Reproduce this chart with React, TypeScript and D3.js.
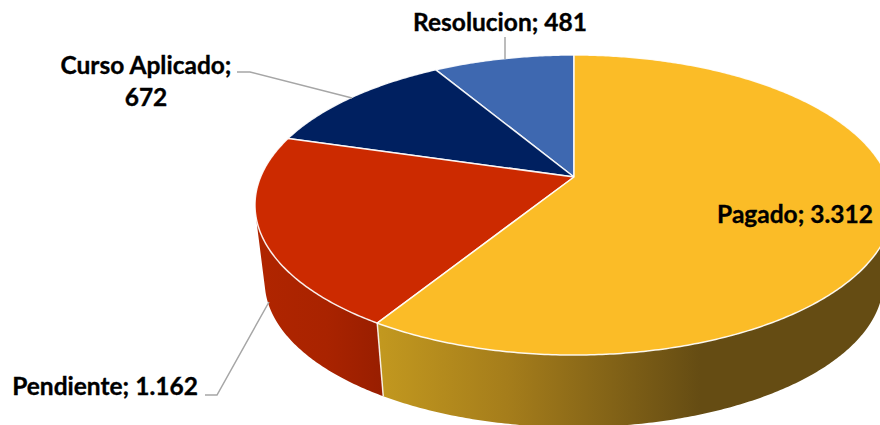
import React from "react";
import * as d3 from "d3";

const categories = ["Resolucion", "Curso Aplicado", "Pendiente", "Pagado"];
const values = [481, 672, 1162, 3312];
const valueLabels = ["481", "672", "1.162", "3.312"];
const colors = ["#3E68B0", "#002060", "#CC2A00", "#FBBC27"];

const W = 880, H = 425;
// Perspective projection of the unit disc
const cx = 574, cy = 177, a = 313.4, b = 144.8, k = 0.1867;
// Vanishing point of vertical edges and scale of the bottom plane
const vy = 2720, s = 0.9695;

type P = [number, number];
const top = (t: number): P => {
  const u = Math.sin(t), v = -Math.cos(t), w = 1 - k * v;
  return [cx + (a * u) / w, cy + (b * v) / w];
};
const bot = (t: number): P => {
  const [x, y] = top(t);
  return [cx + (x - cx) * s, vy - (vy - y) * s];
};
// front-facing: the rim's tangent and the vertical edge turn the outward way
const visible = (t: number) => {
  const e = 0.001;
  const p0 = top(t - e), p1 = top(t + e), p = top(t), q = bot(t);
  const tx = p1[0] - p0[0], ty = p1[1] - p0[1];
  const gx = q[0] - p[0], gy = q[1] - p[1];
  return tx * gy - ty * gx < 0;
};

const pieGen = d3.pie<number>().sort(null).value((d) => d);
// counter-clockwise from 12 o'clock, first category first
const arcs = pieGen(values).map((d) => ({
  index: d.index,
  start: -d.startAngle,
  end: -d.endAngle,
}));

const sample = (t0: number, t1: number) => {
  const n = Math.max(2, Math.ceil(Math.abs(t1 - t0) / 0.01));
  return d3.range(n + 1).map((i) => t0 + ((t1 - t0) * i) / n);
};
const line = d3.line<P>();

const labelStyle: React.CSSProperties = {
  fontFamily: "Lato, sans-serif",
  fontWeight: 700,
  fontSize: 24.5,
  fill: "#000",
  stroke: "#000",
  strokeWidth: 0.35,
};

export default function App() {
  const topFaces = arcs.map((d) => {
    const pts = sample(d.start, d.end).map(top);
    return line([[cx, cy], ...pts])! + "Z";
  });
  const sides = arcs
    .map((d) => {
      const ts = sample(d.start, d.end).filter(visible);
      if (ts.length < 2) return null;
      const path = line([...ts.map(top), ...ts.slice().reverse().map(bot)])! + "Z";
      return { index: d.index, path };
    })
    .filter(Boolean) as { index: number; path: string }[];
  const pStart = top(arcs[2].end);
  const pEnd = bot(arcs[2].end);

  const lbl = (i: number) => `${categories[i]}; ${valueLabels[i]}`;

  return (
    <svg
      width={W}
      height={H}
      viewBox={`0 0 ${W} ${H}`}
      style={{ position: "fixed", left: 0, top: 0, background: "#fff", overflow: "hidden" }}
    >
      <defs>
        <linearGradient id="side-2" gradientUnits="userSpaceOnUse" x1={256} x2={384} y1={0} y2={0}>
          <stop offset="0" stopColor="#B02500" />
          <stop offset="0.55" stopColor="#A92300" />
          <stop offset="1" stopColor="#981E00" />
        </linearGradient>
        <linearGradient id="side-3" gradientUnits="userSpaceOnUse" x1={380} x2={700} y1={0} y2={0}>
          <stop offset="0" stopColor="#C2981F" />
          <stop offset="0.4" stopColor="#A57D1B" />
          <stop offset="0.72" stopColor="#836317" />
          <stop offset="1" stopColor="#654C13" />
        </linearGradient>
      </defs>
      {sides.map((d) => (
        <path key={d.index} d={d.path} fill={`url(#side-${d.index})`} />
      ))}
      <line
        x1={pStart[0]}
        y1={pStart[1]}
        x2={pEnd[0]}
        y2={pEnd[1]}
        stroke="#fff"
        strokeOpacity={0.85}
        strokeWidth={1.5}
      />
      {arcs.map((d, i) => (
        <path
          key={d.index}
          d={topFaces[i]}
          fill={colors[d.index]}
          stroke="#fff"
          strokeOpacity={0.9}
          strokeWidth={1.5}
          strokeLinejoin="round"
        />
      ))}
      <g fill="none" stroke="#A6A6A6" strokeWidth={1.5}>
        <path d="M505,37V59" />
        <path d="M237,72H250L352,98" />
        <path d="M205,395H217L269,302" />
      </g>
      <text x={500} y={31} textAnchor="middle" style={labelStyle}>{lbl(0)}</text>
      <text x={146} y={74} textAnchor="middle" style={labelStyle}>{categories[1]};</text>
      <text x={146} y={106} textAnchor="middle" style={labelStyle}>{valueLabels[1]}</text>
      <text x={105} y={395} textAnchor="middle" style={labelStyle}>{lbl(2)}</text>
      <text x={795} y={223} textAnchor="middle" style={labelStyle}>{lbl(3)}</text>
    </svg>
  );
}
